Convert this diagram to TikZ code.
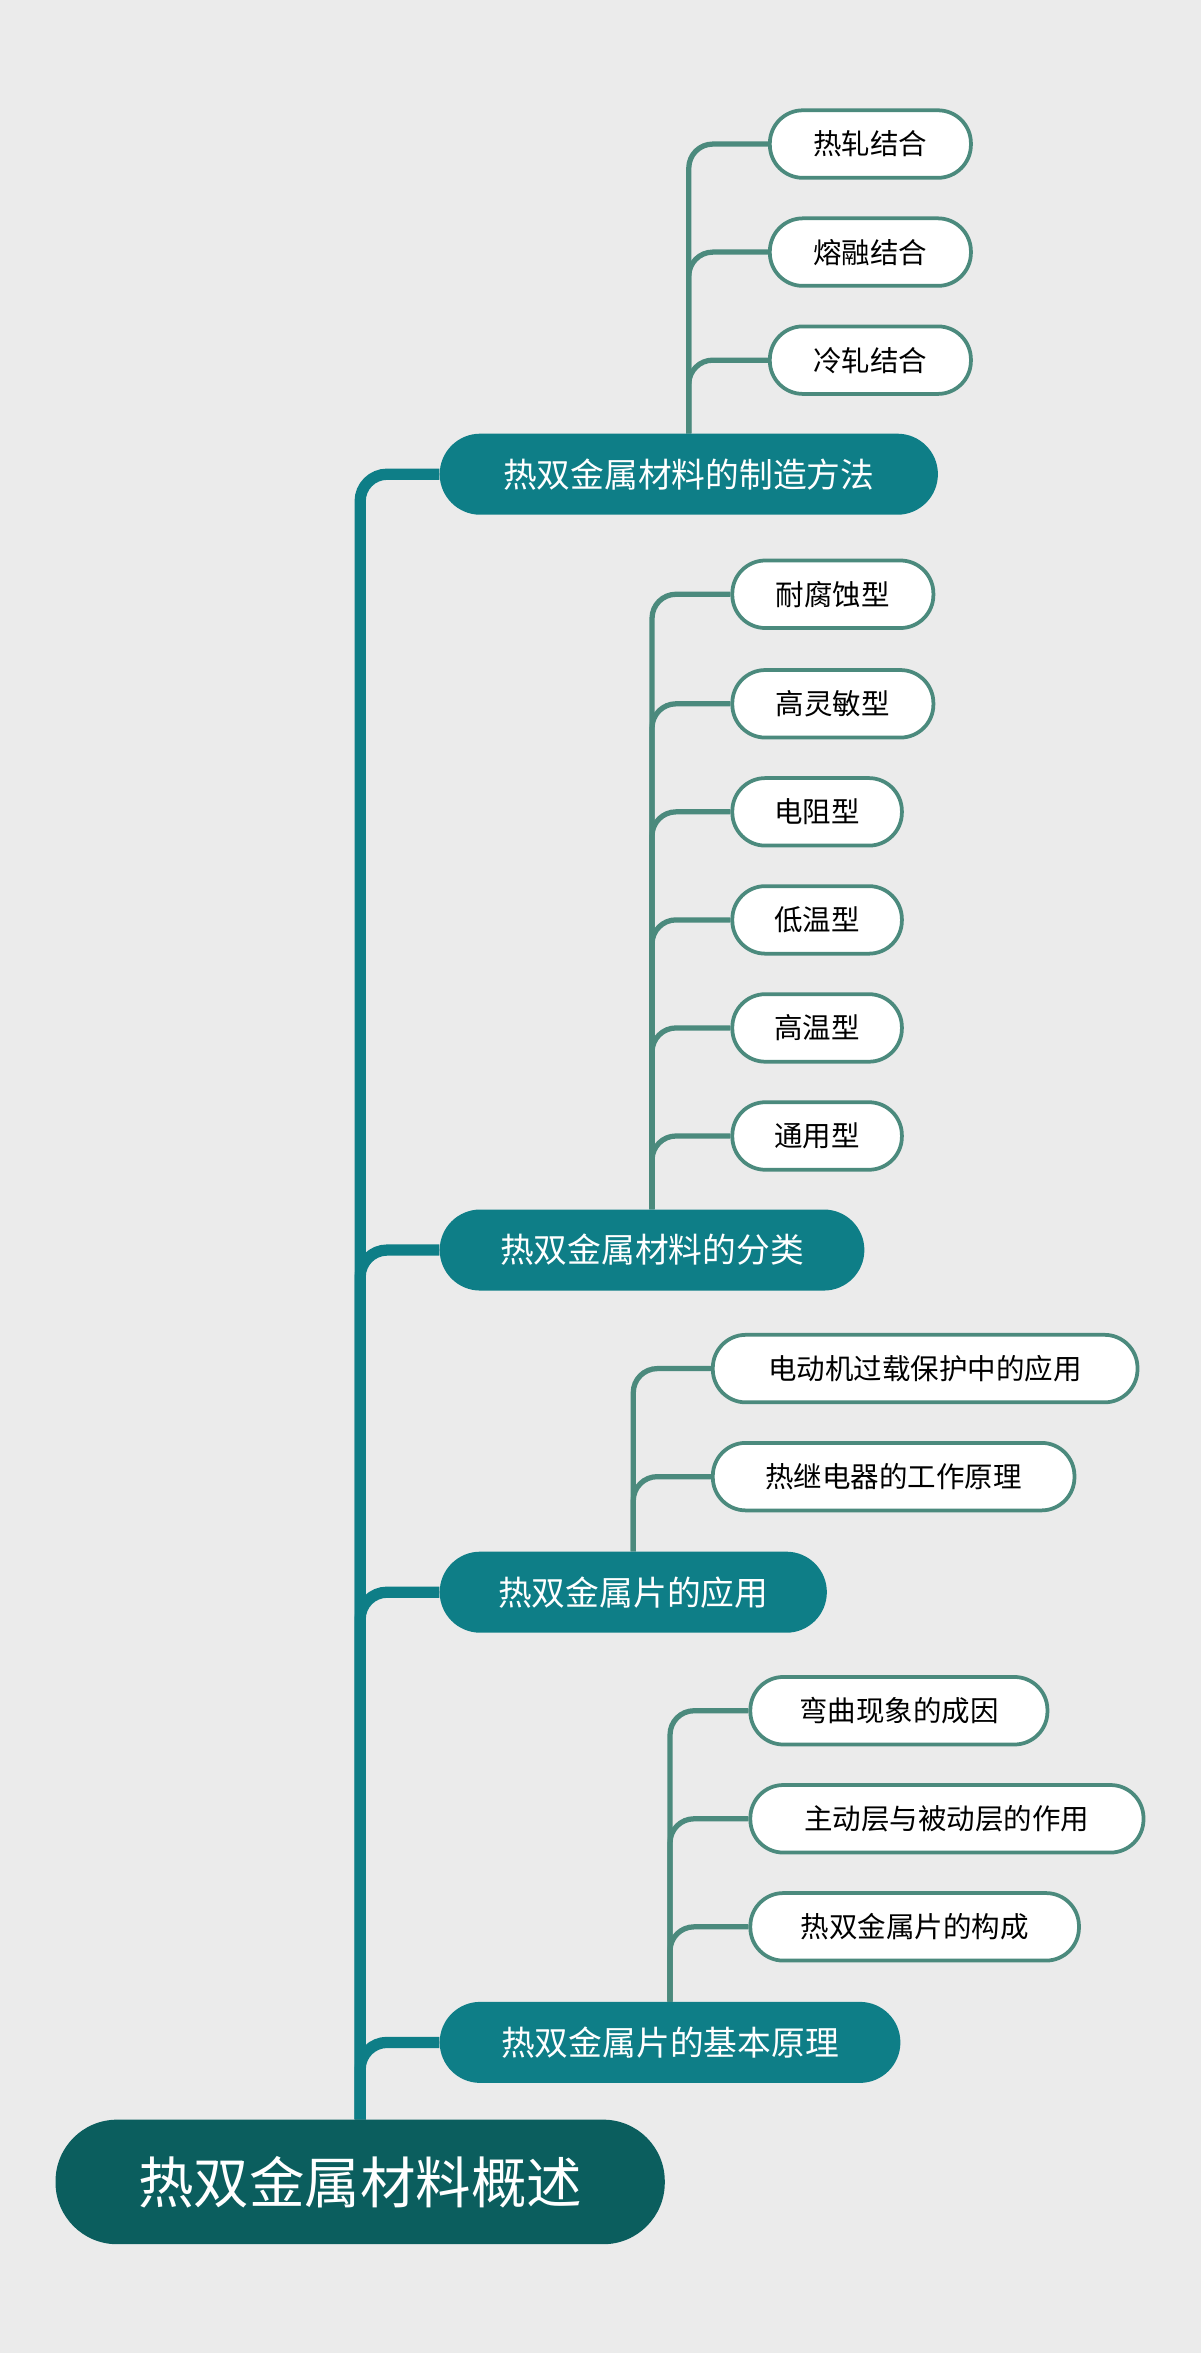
\documentclass[tikz,border=0pt]{standalone}
\usepackage{fontspec}
\newfontfamily\cjk{Noto Sans CJK SC}
\definecolor{bg}{HTML}{EBEBEB}
\definecolor{rootc}{HTML}{0B5E5E}
\definecolor{brc}{HTML}{0E7E87}
\definecolor{leafc}{HTML}{4B8A7D}
\pgfdeclarelayer{bgl}
\pgfdeclarelayer{conl}
\pgfsetlayers{bgl,conl,main}
\begin{document}
\begin{tikzpicture}[x=1pt,y=-1pt,
  rootn/.style={fill=rootc,rounded corners=41pt,minimum width=406pt,minimum height=83pt,text=white,font=\cjk\fontsize{37}{42}\selectfont,inner sep=0},
  brn/.style={fill=brc,rounded corners=27pt,minimum height=54pt,text=white,font=\cjk\fontsize{22.5}{27}\selectfont,inner sep=0},
  leafn/.style={fill=white,draw=leafc,line width=2.5pt,rounded corners=22pt,minimum height=45pt,font=\cjk\fontsize{19}{23}\selectfont,inner sep=0},
  trunk/.style={draw=brc,line width=7.5pt,rounded corners=18pt},
  twig/.style={draw=leafc,line width=3.5pt,rounded corners=16pt}]
\begin{pgfonlayer}{bgl}
\fill[bg] (0,0) rectangle (800,1568);
\end{pgfonlayer}
\useasboundingbox (0,0) rectangle (800,1568);
\node[rootn] (root) at (240,1454) {热双金属材料概述};
\node[brn,minimum width=332pt] (b1) at (459,316) {热双金属材料的制造方法};
\node[brn,minimum width=283pt] (b2) at (434.5,833) {热双金属材料的分类};
\node[brn,minimum width=258pt] (b3) at (422,1061) {热双金属片的应用};
\node[brn,minimum width=307pt] (b4) at (446.5,1361) {热双金属片的基本原理};
\node[leafn,minimum width=134pt] (l11) at (580,96) {热轧结合};
\node[leafn,minimum width=134pt] (l12) at (580,168) {熔融结合};
\node[leafn,minimum width=134pt] (l13) at (580,240) {冷轧结合};
\node[leafn,minimum width=134pt] (l21) at (555,396) {耐腐蚀型};
\node[leafn,minimum width=134pt] (l22) at (555,469) {高灵敏型};
\node[leafn,minimum width=113pt] (l23) at (544.5,541) {电阻型};
\node[leafn,minimum width=113pt] (l24) at (544.5,613) {低温型};
\node[leafn,minimum width=113pt] (l25) at (544.5,685) {高温型};
\node[leafn,minimum width=113pt] (l26) at (544.5,757) {通用型};
\node[leafn,minimum width=283pt] (l31) at (616.5,912) {电动机过载保护中的应用};
\node[leafn,minimum width=241pt] (l32) at (595.5,984) {热继电器的工作原理};
\node[leafn,minimum width=198pt] (l41) at (599,1140) {弯曲现象的成因};
\node[leafn,minimum width=262pt] (l42) at (631,1212) {主动层与被动层的作用};
\node[leafn,minimum width=219pt] (l43) at (609.5,1284) {热双金属片的构成};
\begin{pgfonlayer}{conl}
\foreach \b in {b1,b2,b3,b4} \draw[trunk] (root.north) |- (\b.west);
\foreach \l in {l11,l12,l13} \draw[twig] (b1.north) |- (\l.west);
\foreach \l in {l21,l22,l23,l24,l25,l26} \draw[twig] (b2.north) |- (\l.west);
\foreach \l in {l31,l32} \draw[twig] (b3.north) |- (\l.west);
\foreach \l in {l41,l42,l43} \draw[twig] (b4.north) |- (\l.west);
\end{pgfonlayer}
\end{tikzpicture}
\end{document}
